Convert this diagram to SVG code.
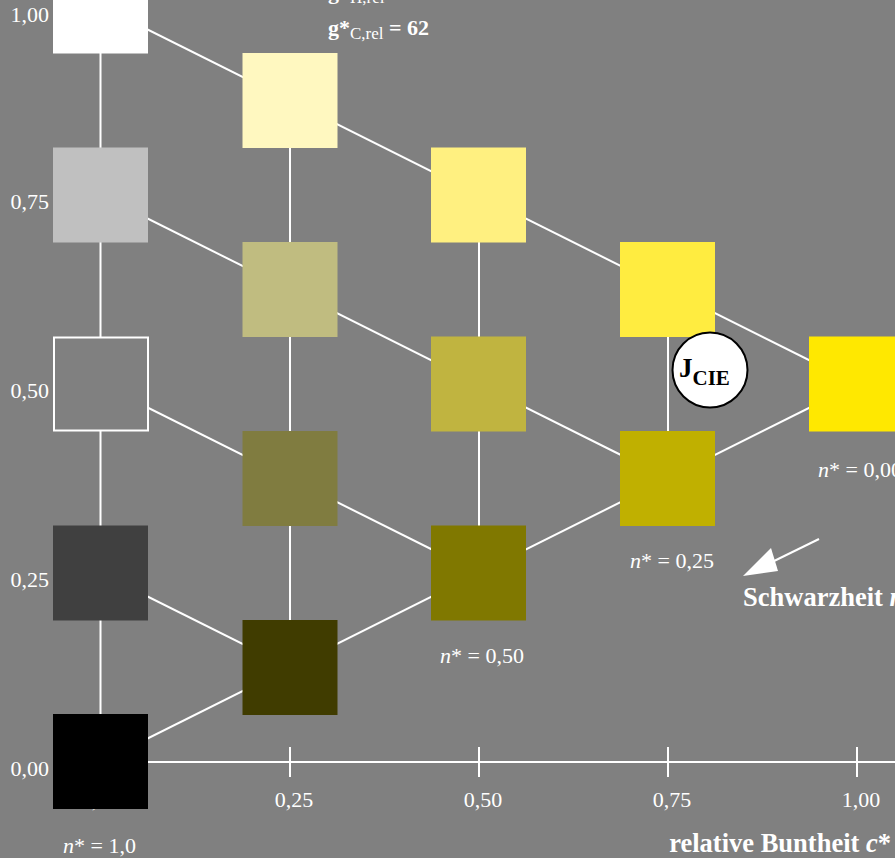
<svg xmlns="http://www.w3.org/2000/svg" width="895" height="858" viewBox="0 0 895 858">
<style>
.bg{fill:#808080}
.ln{stroke:#ffffff;stroke-width:2;fill:none}
.sq{stroke:none}
.t{font-family:"Liberation Serif","Times New Roman",serif;font-size:22px;fill:#ffffff}
.b{font-weight:bold}
.big{font-size:26.5px}
.i{font-style:italic}
.sub{font-size:17px;font-weight:normal}
</style>
<rect class="bg" x="0" y="0" width="895" height="858"/>

<g id="connectors">
  <line class="ln" x1="100.5" y1="6" x2="100.5" y2="762"/>
  <line class="ln" x1="290" y1="100.5" x2="290" y2="667.5"/>
  <line class="ln" x1="479" y1="195" x2="479" y2="573"/>
  <line class="ln" x1="668" y1="289.5" x2="668" y2="478.5"/>
  <line class="ln" x1="100.5" y1="6" x2="857" y2="384"/>
  <line class="ln" x1="100.5" y1="195" x2="668" y2="478.5"/>
  <line class="ln" x1="100.5" y1="384" x2="479" y2="573"/>
  <line class="ln" x1="100.5" y1="573" x2="290" y2="667.5"/>
  <line class="ln" x1="100.5" y1="762" x2="857" y2="384"/>
  <line class="ln" x1="100" y1="762" x2="895" y2="762"/>
  <line class="ln" x1="290" y1="747" x2="290" y2="777"/>
  <line class="ln" x1="479" y1="747" x2="479" y2="777"/>
  <line class="ln" x1="668" y1="747" x2="668" y2="777"/>
  <line class="ln" x1="857" y1="747" x2="857" y2="777"/>
  <line class="ln" x1="819" y1="539" x2="770" y2="563"/>
  <polygon points="743,576 771,548 778,571" fill="#ffffff"/>
</g>

<text class="t" x="49" y="776" text-anchor="end">0,00</text>
<text class="t" x="100" y="807" text-anchor="middle">0,00</text>

<g id="col0">
  <rect id="n0-0" class="sq" x="53" y="-41.5" width="95" height="95" fill="#ffffff"/>
  <rect id="n0-1" class="sq" x="53" y="147.5" width="95" height="95" fill="#c0c0c0"/>
  <rect id="n0-2" x="54" y="337.5" width="94" height="93" fill="#808080" stroke="#ffffff" stroke-width="2"/>
  <rect id="n0-3" class="sq" x="53" y="525.5" width="95" height="95" fill="#404040"/>
  <rect id="n0-4" class="sq" x="53" y="714" width="95" height="95" fill="#000000"/>
</g>
<g id="col1">
  <rect id="n1-0" class="sq" x="242.5" y="53" width="95" height="95" fill="#fff8c0"/>
  <rect id="n1-1" class="sq" x="242.5" y="242" width="95" height="95" fill="#c0bc80"/>
  <rect id="n1-2" class="sq" x="242.5" y="431" width="95" height="95" fill="#807c40"/>
  <rect id="n1-3" class="sq" x="242.5" y="620" width="95" height="95" fill="#403c00"/>
</g>
<g id="col2">
  <rect id="n2-0" class="sq" x="431" y="147.5" width="95" height="95" fill="#fff080"/>
  <rect id="n2-1" class="sq" x="431" y="336.5" width="95" height="95" fill="#c0b440"/>
  <rect id="n2-2" class="sq" x="431" y="525.5" width="95" height="95" fill="#807800"/>
</g>
<g id="col3">
  <rect id="n3-0" class="sq" x="620" y="242" width="95" height="95" fill="#ffec40"/>
  <rect id="n3-1" class="sq" x="620" y="431" width="95" height="95" fill="#c0b000"/>
</g>
<g id="col4">
  <rect id="n4-0" class="sq" x="809" y="336.5" width="95" height="95" fill="#ffe800"/>
</g>

<g id="jcie">
  <circle cx="710" cy="370" r="37.5" fill="#ffffff" stroke="#000000" stroke-width="2"/>
  <text x="679" y="377" font-family="'Liberation Serif','Times New Roman',serif" font-weight="bold" font-size="27" fill="#000000">J<tspan font-size="21" dy="8">CIE</tspan></text>
</g>

<g id="labels">
  <text class="t" x="49" y="22" text-anchor="end">1,00</text>
  <text class="t" x="49" y="209" text-anchor="end">0,75</text>
  <text class="t" x="49" y="398" text-anchor="end">0,50</text>
  <text class="t" x="49" y="587" text-anchor="end">0,25</text>
  <text class="t" x="294" y="807" text-anchor="middle">0,25</text>
  <text class="t" x="483" y="807" text-anchor="middle">0,50</text>
  <text class="t" x="672" y="807" text-anchor="middle">0,75</text>
  <text class="t" x="861" y="807" text-anchor="middle">1,00</text>

  <text class="t" x="63" y="853"><tspan class="i">n</tspan>* = 1,0</text>
  <text class="t" x="440" y="663"><tspan class="i">n</tspan>* = 0,50</text>
  <text class="t" x="630" y="568"><tspan class="i">n</tspan>* = 0,25</text>
  <text class="t" x="818" y="477"><tspan class="i">n</tspan>* = 0,00</text>

  <text class="t b big" x="743" y="606">Schwarzheit <tspan class="i">n</tspan>*</text>
  <text class="t b big" x="891" y="852" text-anchor="end">relative Buntheit <tspan class="i">c</tspan>*</text>

  <text class="t b" x="328" y="-1">g*<tspan class="sub" dy="4">H,rel</tspan></text>
  <text class="t b" x="328" y="35">g*<tspan class="sub" dy="4">C,rel</tspan><tspan dy="-4"> = 62</tspan></text>
</g>
</svg>
